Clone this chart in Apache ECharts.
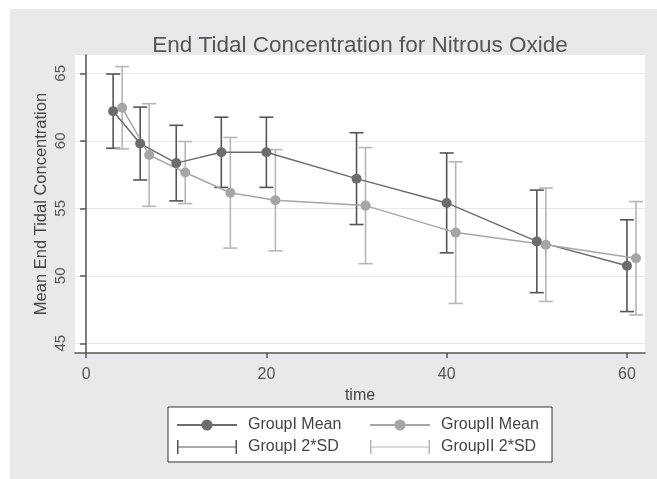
<!DOCTYPE html>
<html>
<head>
<meta charset="utf-8">
<script src="https://cdn.jsdelivr.net/npm/echarts@6/dist/echarts.min.js"></script>
<style>
body { margin: 0; background: #fff; }
.wrap { position: relative; width: 657px; height: 479px; }
.bg { position: absolute; left: 10px; top: 9px; right: 0; bottom: 0; background: #e8e9eb; }
#data-chart { position: absolute; left: 0; top: 0; width: 657px; height: 479px; }
</style>
</head>
<body>
<div class="wrap">
	<div class="bg"></div>
	<div id="data-chart"></div>
</div>
<script>
// Data
var timeI = [3, 6, 10, 15, 20, 30, 40, 50, 60];
var meanI = [62.2, 59.8, 58.35, 59.15, 59.15, 57.2, 55.4, 52.55, 50.75];
var sdI = [2.75, 2.7, 2.8, 2.6, 2.6, 3.4, 3.7, 3.8, 3.4];

var timeII = [4, 7, 11, 16, 21, 31, 41, 51, 61];
var meanII = [62.45, 58.95, 57.65, 56.15, 55.6, 55.2, 53.2, 52.3, 51.3];
var sdII = [3.05, 3.8, 2.3, 4.1, 3.75, 4.3, 5.25, 4.2, 4.2];

var xTicks = [0, 20, 40, 60];
var yTicks = [45, 50, 55, 60, 65];

var darkLine = '#6c6c6c';
var darkBar = '#555555';
var lightLine = '#a6a6a6';
var lightBar = '#b6b6b6';
var font = 'Liberation Sans';

function meanData(t, m) {
	return t.map(function(v, i) { return [v, m[i]]; });
}
function barData(t, m, s) {
	return t.map(function(v, i) { return [v, m[i] - s[i], m[i] + s[i]]; });
}

// error bar with caps
function capRender(color) {
	return function(params, api) {
		var lo = api.coord([api.value(0), api.value(1)]);
		var hi = api.coord([api.value(0), api.value(2)]);
		var w = 7;
		var st = { stroke: color, lineWidth: 1.6 };
		return {
			type: 'group',
			children: [
				{ type: 'line', shape: { x1: lo[0], y1: lo[1], x2: hi[0], y2: hi[1] }, style: st },
				{ type: 'line', shape: { x1: lo[0] - w, y1: lo[1], x2: lo[0] + w, y2: lo[1] }, style: st },
				{ type: 'line', shape: { x1: hi[0] - w, y1: hi[1], x2: hi[0] + w, y2: hi[1] }, style: st }
			]
		};
	};
}

var capIcon = 'path://M0,0h3v28h-3z M0,13h120v2h-120z M117,0h3v28h-3z';

var dom = document.getElementById('data-chart');
var myChart = echarts.init(dom, null, { renderer: 'canvas' });

var legendText = { fontFamily: font, fontSize: 16, color: '#444', lineHeight: 16, padding: [0, 0, 0, 6] };

var option = {
	backgroundColor: 'transparent',
	animation: false,
	title: {
		text: 'End Tidal Concentration for Nitrous Oxide',
		left: 360,
		top: 34,
		padding: 0,
		textAlign: 'center',
		textStyle: { fontFamily: font, fontSize: 22.5, fontWeight: 'normal', color: '#555' }
	},
	grid: {
		left: 75, right: 12, top: 55, bottom: 126,
		show: true, backgroundColor: '#fff', borderWidth: 0
	},
	legend: [{
		orient: 'vertical',
		left: 176, top: 417, padding: 0,
		itemWidth: 60, itemHeight: 14, itemGap: 6,
		textStyle: legendText,
		data: [
			{ name: 'GroupI Mean' },
			{ name: 'GroupI 2*SD', icon: capIcon }
		]
	}, {
		orient: 'vertical',
		left: 369, top: 417, padding: 0,
		itemWidth: 60, itemHeight: 14, itemGap: 6,
		textStyle: legendText,
		data: [
			{ name: 'GroupII Mean' },
			{ name: 'GroupII 2*SD', icon: capIcon }
		]
	}],
	graphic: [{
		type: 'rect',
		z: -1,
		shape: { x: 168, y: 407, width: 384, height: 55 },
		style: { fill: '#fff', stroke: '#333', lineWidth: 1 }
	}],
	xAxis: {
		type: 'value',
		min: -1.23,
		max: 62,
		name: 'time',
		nameLocation: 'middle',
		nameGap: 30,
		nameTextStyle: { fontFamily: font, fontSize: 16, color: '#444' },
		axisLine: { lineStyle: { color: '#555', width: 1.5 } },
		axisTick: { customValues: xTicks, length: 5, lineStyle: { color: '#555', width: 1.5 } },
		axisLabel: { customValues: xTicks, margin: 14, fontFamily: font, fontSize: 16, color: '#555' },
		splitLine: { show: false }
	},
	yAxis: {
		type: 'value',
		min: 44.28,
		max: 66.36,
		name: 'Mean End Tidal Concentration',
		nameLocation: 'middle',
		nameRotate: 90,
		nameGap: 25,
		nameMoveOverlap: false,
		nameTextStyle: { fontFamily: font, fontSize: 16.5, color: '#444' },
		axisLine: { show: true, lineStyle: { color: '#555', width: 1.5 } },
		axisTick: { show: true, customValues: yTicks, length: 6, lineStyle: { color: '#555', width: 1.5 } },
		axisLabel: { customValues: yTicks, rotate: 90, margin: 7, fontFamily: font, fontSize: 15, color: '#555' },
		splitLine: { show: true, lineStyle: { color: '#e8e8e8', width: 1.2 } }
	},
	series: [{
		name: 'GroupI 2*SD',
		type: 'custom',
		itemStyle: { color: darkBar },
		renderItem: capRender(darkBar),
		encode: { x: 0, y: [1, 2] },
		data: barData(timeI, meanI, sdI),
		z: 2
	}, {
		name: 'GroupII 2*SD',
		type: 'custom',
		itemStyle: { color: lightBar },
		renderItem: capRender(lightBar),
		encode: { x: 0, y: [1, 2] },
		data: barData(timeII, meanII, sdII),
		z: 2
	}, {
		name: 'GroupI Mean',
		type: 'line',
		symbol: 'circle',
		symbolSize: 10,
		itemStyle: { color: darkLine },
		lineStyle: { color: darkLine, width: 1.5 },
		data: meanData(timeI, meanI),
		z: 3
	}, {
		name: 'GroupII Mean',
		type: 'line',
		symbol: 'circle',
		symbolSize: 10,
		itemStyle: { color: lightLine },
		lineStyle: { color: lightLine, width: 1.5 },
		data: meanData(timeII, meanII),
		z: 3
	}]
};

myChart.setOption(option);
window.addEventListener('resize', myChart.resize);
</script>
</body>
</html>
